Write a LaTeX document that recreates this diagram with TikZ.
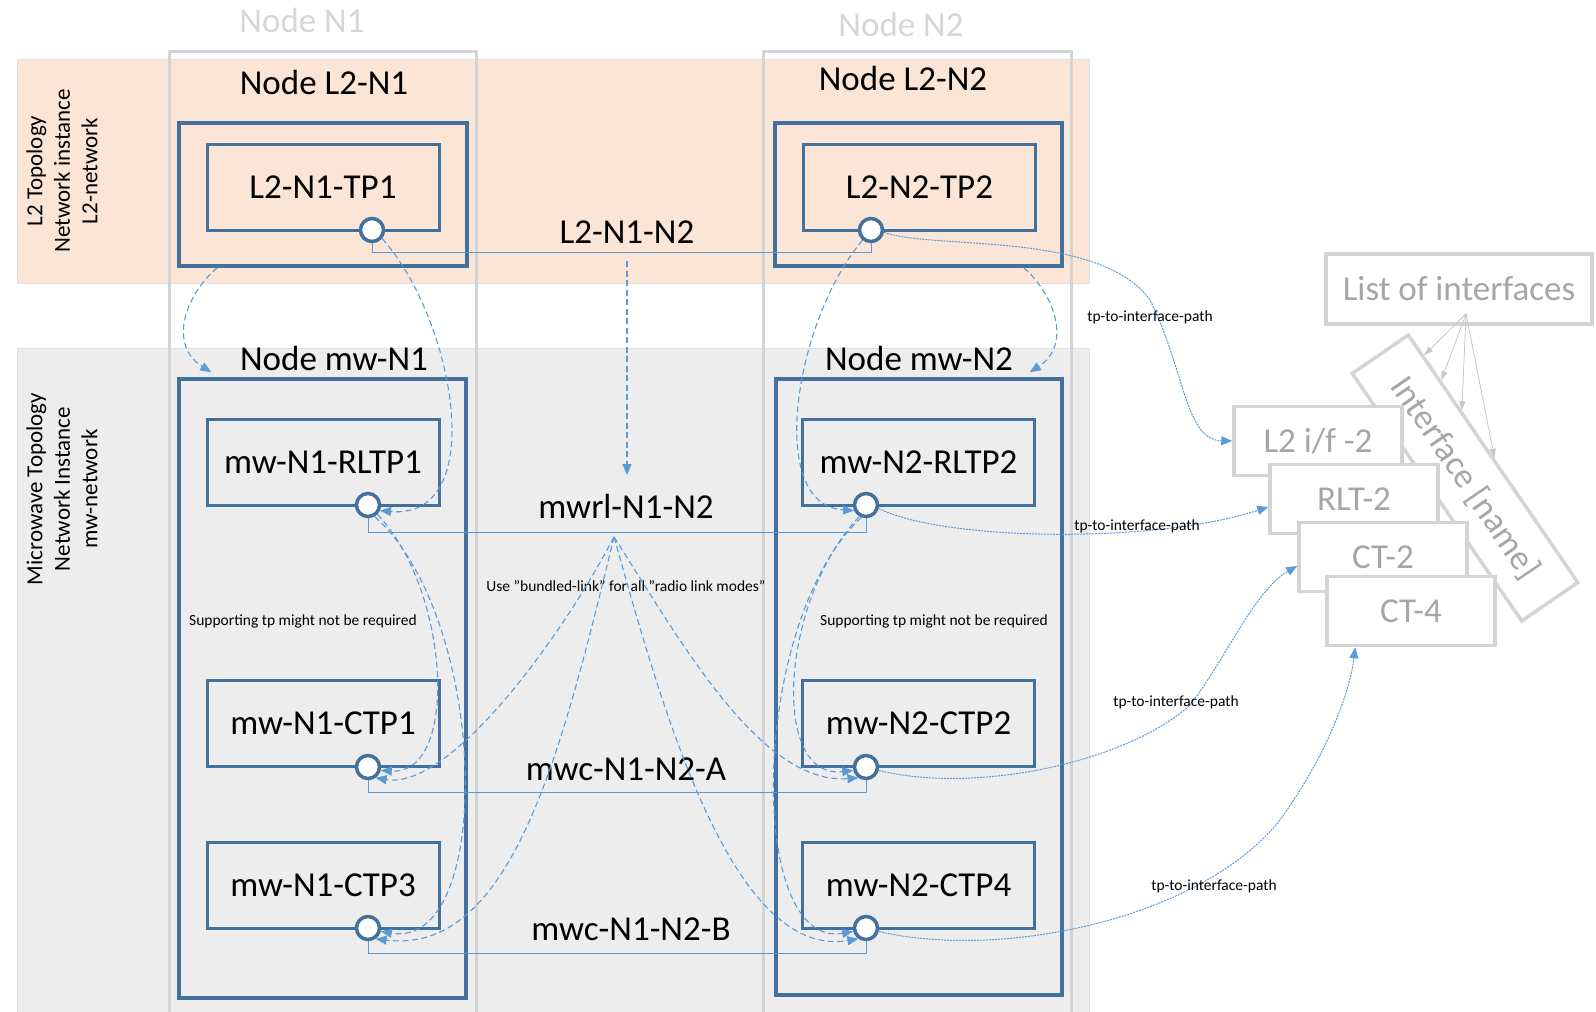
\documentclass[tikz,border=0pt]{standalone}
\usepackage{fontspec}
\setmainfont{Carlito}
\usepackage{tikz}
\usetikzlibrary{arrows.meta,positioning,calc}
\definecolor{lt}{HTML}{FBE5D6}
\definecolor{mw}{HTML}{EDEDED}
\definecolor{bx}{HTML}{41719C}
\definecolor{ln}{HTML}{5B9BD5}
\definecolor{gt}{HTML}{A6A6A6}
\newcommand{\fnbig}{\fontsize{35}{42}\selectfont}
\newcommand{\fnmid}{\fontsize{23}{27.5}\selectfont}
\newcommand{\fnsmall}{\fontsize{15.5}{18}\selectfont}

\begin{document}
\begin{tikzpicture}[x=1pt,y=-1pt,
  bandbox/.style={draw=black!12,line width=1pt},
  colframe/.style={draw=black!17,line width=3pt},
  obox/.style={draw=bx,line width=3.5pt,inner sep=0pt},
  ibox/.style={draw=bx,line width=3pt,minimum width=232pt,minimum height=86pt,inner sep=0pt,font=\fnbig},
  tpc/.style={circle,draw=bx,fill=white,line width=3.5pt,minimum size=23pt,inner sep=0pt},
  lbl/.style={font=\fnbig,inner sep=0pt},
  smalltxt/.style={font=\fnsmall,inner sep=0pt},
  lnk/.style={draw=ln,line width=1pt},
  dsh/.style={draw=ln,line width=1.1pt,dash pattern=on 6pt off 3.5pt,-{Triangle[length=11pt,width=9pt]}},
  tpp/.style={draw=ln,line width=1pt,dash pattern=on 2pt off 1pt,-{Triangle[length=11pt,width=9pt]}},
  ifbox/.style={draw=black!17,line width=3.5pt,fill=white,text=gt,font=\fnbig,inner sep=0pt},
  garr/.style={draw=black!22,line width=0.8pt,-{Triangle[length=9pt,width=6pt]}}]
  \useasboundingbox (0,0) rectangle (1596,1012);

  \draw[bandbox,fill=lt] (17,59) rectangle (1089,283);
  \draw[bandbox,fill=mw] (17,348) rectangle (1089,1020);
  \draw[colframe] (169,1020) |- (476,51) -- (476,1020);
  \draw[colframe] (763,1020) |- (1071,51) -- (1071,1020);

  \node[lbl,text=black!16] (hn1) at (302,20) {Node N1};
  \node[lbl,text=black!16] (hn2) at (901,24) {Node N2};
  \node[rotate=90,align=center,font=\fnmid,inner sep=0pt] (l2txt) at (62,171) {L2 Topology\\Network instance\\L2-network};
  \node[rotate=90,align=center,font=\fnmid,inner sep=0pt] (mwtxt) at (62,489) {Microwave Topology\\Network Instance\\mw-network};

  \node[lbl] (hl2a) at (324,82) {Node L2-N1};
  \node[lbl] (hl2b) at (903,78) {Node L2-N2};
  \node[obox,minimum width=288pt,minimum height=143pt] (l2a) at (323,194.5) {};
  \node[obox,minimum width=287pt,minimum height=143pt] (l2b) at (918.5,194.5) {};
  \node[ibox] (tp1) at (323,187) {L2-N1-TP1};
  \node[ibox] (tp2) at (919.5,187) {L2-N2-TP2};
  \node[tpc] (c1) at (372,230) {};
  \node[tpc] (c2) at (871,230) {};

  \node[lbl] (hmwa) at (334,358) {Node mw-N1};
  \node[lbl] (hmwb) at (919,358) {Node mw-N2};
  \node[obox,minimum width=287pt,minimum height=619pt] (mwa) at (322.5,688.5) {};
  \node[obox,minimum width=286pt,minimum height=616pt] (mwb) at (919,687) {};
  \node[ibox] (rltp1) at (323,462) {mw-N1-RLTP1};
  \node[ibox] (ctp1) at (323,723.5) {mw-N1-CTP1};
  \node[ibox] (ctp3) at (323,885.5) {mw-N1-CTP3};
  \node[ibox] (rltp2) at (918.5,462) {mw-N2-RLTP2};
  \node[ibox] (ctp2) at (918.5,723.5) {mw-N2-CTP2};
  \node[ibox] (ctp4) at (918.5,885.5) {mw-N2-CTP4};
  \node[tpc] (r1) at (368,505) {};
  \node[tpc] (a1) at (368,767) {};
  \node[tpc] (b1) at (368,928) {};
  \node[tpc] (r2) at (866,505) {};
  \node[tpc] (a2) at (866,767) {};
  \node[tpc] (b2) at (866,928) {};

  \node[lbl] (l2lk) at (627,232) {L2-N1-N2};
  \node[lbl] (mwrl) at (626,506) {mwrl-N1-N2};
  \node[lbl] (mwca) at (626,769) {mwc-N1-N2-A};
  \node[lbl] (mwcb) at (631,929) {mwc-N1-N2-B};
  \node[smalltxt] (bund) at (626,586) {Use ”bundled-link” for all ”radio link modes”};
  \node[smalltxt] (sup1) at (303,621) {Supporting tp might not be required};
  \node[smalltxt] (sup2) at (934,621) {Supporting tp might not be required};

  \draw[lnk] (c1.south) -- ++(0,9) -| (c2.south);
  \draw[lnk] (r1.south) -- ++(0,14) -| (r2.south);
  \draw[lnk] (a1.south) -- ++(0,12) -| (a2.south);
  \draw[lnk] (b1.south) -- ++(0,12) -| (b2.south);

  \coordinate (l2mid) at (627,261);
  \coordinate (mwrltop) at (627,475);
  \coordinate (apex) at (614,537);
  \draw[dsh] (l2mid) -- (mwrltop);
  \draw[dsh] ([xshift=40pt]l2a.south west) .. controls (185,295) and (168,345) .. ([xshift=34pt,yshift=5pt]mwa.north west);
  \draw[dsh] ([xshift=-40pt]l2b.south east) .. controls (1055,295) and (1072,345) .. ([xshift=-34pt,yshift=5pt]mwb.north east);
  \draw[dsh] (c1.-40) .. controls (455,320) and (490,520) .. (r1.-25);
  \draw[dsh] (c2.-130) .. controls (795,320) and (765,505) .. (r2.-155);
  \draw[dsh] (r1.-45) .. controls (450,590) and (460,775) .. (a1.-15);
  \draw[dsh] (r1.-60) .. controls (490,620) and (495,950) .. (b1.-15);
  \draw[dsh] (apex) .. controls (560,640) and (450,790) .. (a1.-55);
  \draw[dsh] (apex) .. controls (560,760) and (510,955) .. (b1.-55);
  \draw[dsh] (apex) .. controls (680,640) and (760,785) .. (a2.-125);
  \draw[dsh] (apex) .. controls (660,700) and (730,960) .. (b2.-125);
  \draw[dsh] (r2.-120) .. controls (780,600) and (770,780) .. (a2.-165);
  \draw[dsh] (r2.-110) .. controls (750,620) and (745,950) .. (b2.-165);

  \node[ifbox,minimum width=266pt,minimum height=70pt] (lst) at (1459,289) {List of interfaces};
  \node[ifbox,rotate=-55.6,minimum width=300pt,minimum height=68pt] (ifn) at (1465,478) {Interface [name]};
  \node[ifbox,minimum width=168pt,minimum height=69pt] (if1) at (1318,441) {L2 i/f -2};
  \node[ifbox,minimum width=168pt,minimum height=69pt] (if2) at (1354,499) {RLT-2};
  \node[ifbox,minimum width=168pt,minimum height=69pt] (if3) at (1383,557) {CT-2};
  \node[ifbox,minimum width=168pt,minimum height=69pt] (if4) at (1411,611) {CT-4};
  \coordinate (lstfoot) at ($(lst.south)+(7,-12)$);
  \foreach \f in {0.09,0.19,0.31,0.5}
    \draw[garr] (lstfoot) -- ($(ifn.north west)!\f!(ifn.north east)$);

  \draw[tpp] (c2.-10) .. controls (930,250) and (1100,230) .. (1150,300) .. controls (1185,370) and (1185,440) .. (if1.west);
  \draw[tpp] (r2.-15) .. controls (940,540) and (1150,545) .. ($(if2.west)+(0,8)$);
  \draw[tpp] (a2.-15) .. controls (980,795) and (1130,760) .. (1190,705) .. controls (1225,660) and (1255,590) .. ($(if3.west)+(0,9)$);
  \draw[tpp] (b2.-15) .. controls (1000,960) and (1200,920) .. (1280,820) .. controls (1330,750) and (1350,690) .. ($(if4.south west)+(30,0)$);
  \node[smalltxt] (tpl1) at (1150,317) {tp-to-interface-path};
  \node[smalltxt] (tpl2) at (1137,526) {tp-to-interface-path};
  \node[smalltxt] (tpl3) at (1176,702) {tp-to-interface-path};
  \node[smalltxt] (tpl4) at (1214,886) {tp-to-interface-path};
\end{tikzpicture}
\end{document}
